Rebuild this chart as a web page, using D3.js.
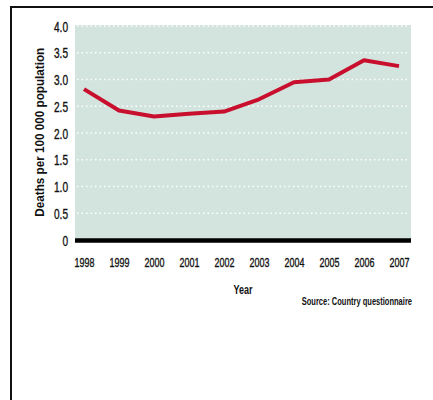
<!DOCTYPE html>
<html><head><meta charset="utf-8">
<script src="https://cdn.jsdelivr.net/npm/d3@7"></script>
<style>
html,body{margin:0;padding:0;background:#fff;}
svg{display:block;}
text{font-family:"Liberation Sans",Arial,sans-serif;fill:#111;}
</style></head>
<body>
<svg id="chart" width="433" height="400"></svg>
<script>
const years = ["1998","1999","2000","2001","2002","2003","2004","2005","2006","2007"];
const deaths = [2.82, 2.42, 2.31, 2.36, 2.40, 2.63, 2.95, 3.00, 3.36, 3.25];
const yTicks = [0, 0.5, 1.0, 1.5, 2.0, 2.5, 3.0, 3.5, 4.0];
const yTickLabels = ["0","0.5","1.0","1.5","2.0","2.5","3.0","3.5","4.0"];

const svg = d3.select("#chart");
const plot = {left:75, right:411, top:26, bottom:240};

// horizontally condense a text via a scale transform (keeps anchor point fixed)
function condense(sel, ratio, pre){
  sel.attr("transform", (pre ? pre + " " : "") + `scale(${ratio},1)`);
}
function condenseTo(sel, target, pre){
  const w = sel.node().getComputedTextLength();
  condense(sel, target / w, pre);
}

// frame
svg.append("line").attr("x1",11).attr("x2",433).attr("y1",7).attr("y2",7).attr("stroke","#111").attr("stroke-width",2);
svg.append("line").attr("x1",11).attr("x2",11).attr("y1",6).attr("y2",400).attr("stroke","#111").attr("stroke-width",2);

const x = d3.scalePoint().domain(years).range([84, 399]);
const y = d3.scaleLinear().domain([0,4]).range([plot.bottom, plot.top]);

svg.append("rect").attr("x",plot.left).attr("y",plot.top-1).attr("width",plot.right-plot.left).attr("height",plot.bottom-plot.top+1).attr("fill","#d3e3dd");

// grid lines
svg.append("g").selectAll("line").data(yTicks.filter(d=>d>0)).join("line")
  .attr("x1",plot.left+2).attr("x2",plot.right-2)
  .attr("y1",d=>y(d)).attr("y2",d=>y(d))
  .attr("stroke","#fff").attr("stroke-width",1.5).attr("stroke-dasharray","1.5,3");

// baseline
svg.append("line").attr("x1",plot.left).attr("x2",plot.right).attr("y1",y(0)+0.5).attr("y2",y(0)+0.5).attr("stroke","#000").attr("stroke-width",4.5);

// y axis labels
const yAxis = d3.axisLeft(y).tickValues(yTicks).tickSize(0).tickPadding(0)
  .tickFormat((d,i)=>yTickLabels[i]);
const gy = svg.append("g").attr("transform",`translate(${plot.left-7},0)`).call(yAxis);
gy.select(".domain").remove();
gy.attr("font-family",null).attr("font-size",null);
gy.selectAll("text").attr("font-size",14).attr("dy","0.36em").attr("x",0)
  .attr("stroke","#111").attr("stroke-width",0.35);
condense(gy.selectAll("text"), 0.72);

// x axis labels
const xAxis = d3.axisBottom(x).tickSize(0).tickPadding(0);
const gx = svg.append("g").attr("transform",`translate(0,267)`).call(xAxis);
gx.select(".domain").remove();
gx.attr("font-family",null).attr("font-size",null);
gx.selectAll("text").attr("font-size",13).attr("dy",0).attr("y",0)
  .attr("stroke","#111").attr("stroke-width",0.35);
condense(gx.selectAll("text"), 0.69);

// line
const line = d3.line().x((d,i)=>x(years[i])).y(d=>y(d));
svg.append("path").datum(deaths).attr("d",line).attr("fill","none")
  .attr("stroke","#c8102e").attr("stroke-width",4).attr("stroke-linejoin","round").attr("stroke-linecap","butt");

// titles
const yt = svg.append("text").attr("text-anchor","middle").attr("font-size",13).attr("font-weight","bold")
  .text("Deaths per 100 000 population");
condenseTo(yt, 169, `translate(44,${(47.7+216.7)/2}) rotate(-90)`);
const xt = svg.append("text").attr("text-anchor","middle").attr("font-size",13).attr("font-weight","bold").text("Year");
condenseTo(xt, 19, "translate(243,294)");
const st = svg.append("text").attr("text-anchor","end").attr("font-size",11).attr("font-weight","bold").text("Source: Country questionnaire");
condenseTo(st, 110.5, "translate(412,305)");
</script>
</body></html>
